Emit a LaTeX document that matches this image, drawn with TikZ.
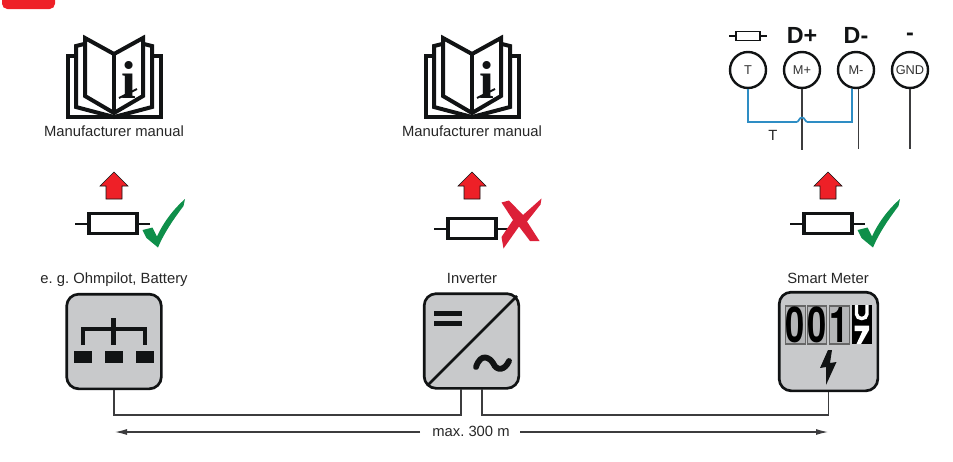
\documentclass[tikz,border=0pt]{standalone}
\usepackage{fontspec}
\usetikzlibrary{arrows.meta}
\setmainfont{Liberation Sans}
\newfontfamily\bookfont{Liberation Serif}
\newfontfamily\digitfont{TeX Gyre Heros}
\definecolor{warnred}{HTML}{EE2027}
\definecolor{crossred}{HTML}{DC2038}
\definecolor{tickgreen}{HTML}{0E8F4A}
\definecolor{boxgray}{HTML}{C8C9CB}
\definecolor{digitgray}{HTML}{B4B5B7}
\definecolor{wiregray}{HTML}{3C3C3E}
\definecolor{wireblue}{HTML}{2E8DC4}
\definecolor{inkblack}{HTML}{111314}
\tikzset{
	label/.style={inner sep=0pt, anchor=base, font=\frenchspacing\fontsize{11.1}{13}\selectfont, text=black!85},
	device/.style={draw=inkblack, fill=boxgray, line width=2pt, rounded corners=9pt, minimum width=71pt, minimum height=71pt, inner sep=0pt},
	terminal/.style={circle, draw=inkblack, fill=white, line width=1.8pt, minimum size=27pt, inner sep=0pt, font=\fontsize{9.6}{11}\selectfont, text=black!80},
	wire/.style={draw=wiregray, line width=1.3pt},
	digit/.style={draw=black!60, fill=digitgray, line width=0.8pt, minimum width=14pt, minimum height=28.5pt, inner sep=0pt, font=\digitfont\bfseries\fontsize{37}{37}\selectfont, text=black},
	heading/.style={inner sep=0pt, font=\bfseries\fontsize{17.5}{20}\selectfont, text=inkblack},
	pics/manual/.style={code={
		\draw [line width=3pt, draw=inkblack, miter limit=10] (-38, -62) -- (-46.5, -62) -- (-46.5, -1) -- (46.5, -1) -- (46.5, -62) -- (38, -62);
		\draw [line width=3pt, draw=inkblack] (-30, -74) -- (-38, -72) -- (-38, -11) -- (0, -1) -- (38, -11) -- (38, -72) -- (30, -74);
		\draw [line width=3pt, draw=inkblack, fill=white] (-29, -80) -- (0, -64) -- (29, -80) -- (29, -22) -- (0, -5) -- (-29, -22) -- cycle;
		\draw [line width=3pt, draw=inkblack] (0, -64) -- (0, -5);
		\node [inner sep=0pt, text=inkblack, font=\bookfont\bfseries\fontsize{40}{40}\selectfont] at (14.5, -38) {i};
		\draw [line width=1.4pt, draw=inkblack] (5, -20) -- (23, -29);
	}},
	pics/upload/.style={code={
		\draw [draw=inkblack, fill=warnred, line width=0.4pt] (0, 0) -- (14, 14) -- (8, 14) -- (8, 27) -- (-8, 27) -- (-8, 14) -- (-14, 14) -- cycle;
	}},
	pics/shunt/.style={code={
		\draw [draw=inkblack, line width=1.5pt] (-38, 0) -- (-24, 0);
		\draw [draw=inkblack, line width=1.5pt] (24, 0) -- (37, 0);
		\draw [draw=inkblack, fill=white, line width=2.6pt] (-24, -10) rectangle (24, 10);
	}},
	pics/okmark/.style={code={
		\fill [tickgreen] (0, 0) -- (10, -2.5) -- (14.5, 6.5) .. controls (20, -6) and (30, -20) .. (42.5, -31) -- (41, -24) .. controls (32, -12) and (22, 2) .. (15.5, 17.5) -- (4, 8) -- cycle;
	}},
}
\begin{document}
\begin{tikzpicture}[x=0.75pt, y=-0.75pt]
	\useasboundingbox (0, 0) rectangle (953, 461);
	\fill [warnred] (2, 0) -- (2, 3) [rounded corners=4pt] -- (2, 9) -- (55, 9) [sharp corners] -- (55, 0) -- cycle;

	% manuals
	\pic at (114, 118) {manual};
	\pic at (472, 118) {manual};
	\node [label] (manualA) at (114, 136.5) {Manufacturer manual};
	\node [label] (manualB) at (472, 136.5) {Manufacturer manual};

	% terminals
	\node [terminal] (T) at (748, 70) {T};
	\node [terminal] (Mplus) at (802, 70) {M+};
	\node [terminal] (Mminus) at (856, 70) {M-};
	\node [terminal] (GND) at (910, 70) {GND};
	\node [heading] (Dplus) at (802, 35) {D+};
	\node [heading] (Dminus) at (856, 35) {D-};
	\node [heading] (Dgnd) at (910, 37) {-};
	\draw [draw=inkblack, line width=1pt] (729, 36) -- (767, 36);
	\draw [draw=inkblack, fill=white, line width=1.2pt] (736, 31.5) rectangle (760, 40.5);
	\coordinate (Mplusend) at (802, 150);
	\coordinate (Mminusend) at (858.5, 149);
	\coordinate (GNDend) at (910, 149);
	\draw [wire] (Mplus) -- (Mplusend);
	\draw [wire] (Mminus.south -| Mminusend) -- (Mminusend);
	\draw [wire] (GND) -- (GNDend);
	\coordinate (bridgeA) at (796.5, 122);
	\coordinate (bridgeB) at (807.5, 122);
	\coordinate (bridgeC) at (852, 122);
	\coordinate (bridgeD) at (852, 88.5);
	\draw [draw=wireblue, line width=1.3pt] (T) |- (bridgeA) .. controls (799, 122) and (799, 117.5) .. (802, 117.5) .. controls (805, 117.5) and (805, 122) .. (bridgeB) -- (bridgeC) -- (bridgeD);
	\node [label] (Tlabel) at (773, 140) {T};

	% warnings
	\pic at (114, 172) {upload};
	\pic at (472, 172) {upload};
	\pic at (828, 172) {upload};
	\pic at (113, 223.5) {shunt};
	\pic at (472, 228.5) {shunt};
	\pic at (828, 223.5) {shunt};
	\pic at (142.5, 230) {okmark};
	\pic at (857.5, 230) {okmark};
	\fill [crossred] (501.5, 202.5) -- (509, 200.5) -- (523, 215) -- (541.5, 198.5) -- (540.5, 204.5) -- (527, 221.5) -- (539.5, 241) -- (530, 241) -- (519, 226.5) -- (503.5, 248.5) -- (501.5, 237) -- (513, 220) -- cycle;

	% devices
	\node [label] (ohmlabel) at (114, 283.5) {e. g. Ohmpilot, Battery};
	\node [label] (invlabel) at (472, 283.5) {Inverter};
	\node [label] (meterlabel) at (828, 283.5) {Smart Meter};
	\node [device] (ohmpilot) at (114, 341.5) {};
	\node [device] (inverter) at (471.5, 341) {};
	\node [device, minimum width=74pt, minimum height=74pt] (meter) at (828.5, 341.5) {};

	% ohmpilot symbol
	\draw [draw=inkblack, line width=3.4pt] (83, 345) -- (83, 329) -- (145, 329) -- (145, 345);
	\draw [draw=inkblack, line width=3.4pt] (113.5, 318) -- (113.5, 345);
	\foreach \xpos in {74, 105, 136}
		\fill [inkblack] (\xpos, 351) rectangle ++(18, 12);

	% inverter symbol
	\draw [draw=inkblack, line width=2pt] (428, 385) -- (517, 296);
	\fill [inkblack] (434, 310.5) rectangle (462, 315.5);
	\fill [inkblack] (434, 320.5) rectangle (462, 325.5);
	\draw [draw=inkblack, line width=4.4pt, line cap=round] (476, 367) .. controls (481, 352) and (490, 358) .. (493, 363) .. controls (497, 372) and (505, 370) .. (509, 361);

	% meter symbol
	\node [digit] (digitA) at (795.5, 325) {\scalebox{0.7}[1]{0}};
	\node [digit] (digitB) at (817, 325) {\scalebox{0.7}[1]{0}};
	\node [digit] (digitC) at (839.5, 325) {\scalebox{0.7}[1]{1}};
	\fill [black] (852, 305) rectangle (872, 344);
	\draw [draw=white, line width=2.6pt] (856.5, 305) -- (856.5, 314) .. controls (856.5, 320) and (867, 320) .. (867, 314) -- (867, 305);
	\fill [white] (854.5, 325.5) -- (869, 325.5) -- (869, 330) -- (861, 344) -- (856.5, 344) -- (862.5, 331) -- (854.5, 331) -- cycle;
	\fill [inkblack] (828, 350) -- (820, 368) -- (826, 367) -- (826, 385) -- (836.5, 362) -- (830, 363) -- (832, 350) -- cycle;

	% wiring
	\coordinate (dcin) at (461, 389);
	\coordinate (acout) at (482, 389);
	\coordinate (busA) at (461, 415);
	\coordinate (busB) at (482, 415);
	\draw [wire] (ohmpilot.south) |- (busA) -- (dcin);
	\draw [wire] (acout) -- (busB) -| (meter.south);

	% span
	\node [label] (span) at (471, 436.5) {max. 300 m};
	\coordinate (spanL) at (115, 432);
	\coordinate (spanR) at (828, 432);
	\coordinate (spanA) at (420, 432);
	\coordinate (spanB) at (520, 432);
	\draw [-{Latex[length=9pt, width=4.5pt]}, draw=wiregray, line width=0.8pt] (spanA) -- (spanL);
	\draw [-{Latex[length=9pt, width=4.5pt]}, draw=wiregray, line width=0.8pt] (spanB) -- (spanR);
\end{tikzpicture}
\end{document}
